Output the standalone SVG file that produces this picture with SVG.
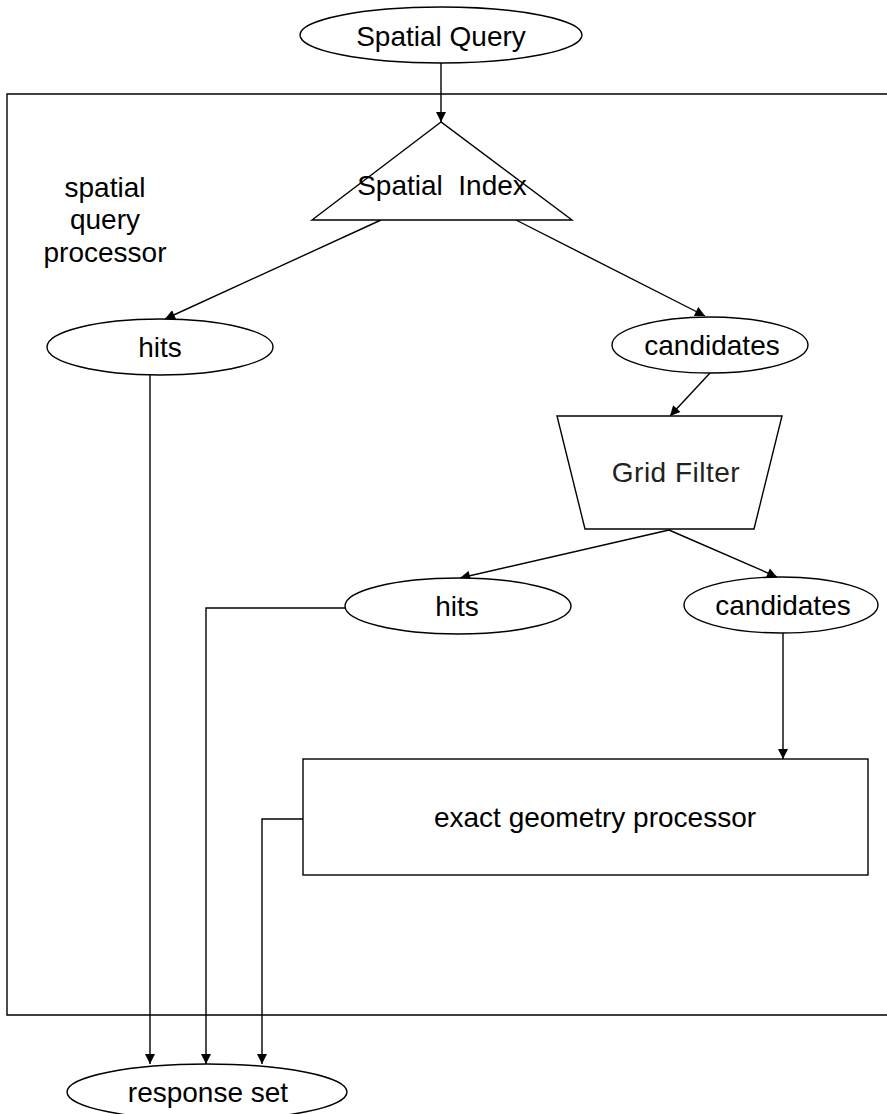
<svg xmlns="http://www.w3.org/2000/svg" width="887" height="1114" viewBox="0 0 887 1114">
<defs>
<marker id="ah" viewBox="0 0 10 10" refX="10" refY="5" markerWidth="11" markerHeight="10" markerUnits="userSpaceOnUse" orient="auto">
<path d="M0,0 L10,5 L0,10 Z" fill="#000"/>
</marker>
<style>
.s{fill:#fff;stroke:#000;stroke-width:1.4}
.c{fill:none;stroke:#000;stroke-width:1.4}
.a{marker-end:url(#ah)}
.t{font-family:"Liberation Sans",Arial,sans-serif;font-size:28px;fill:#000;text-anchor:middle}
.g{font-family:"Liberation Sans",Arial,sans-serif;font-size:28px;fill:#222;text-anchor:middle;letter-spacing:0.5px}
</style>
</defs>
<rect width="887" height="1114" fill="#fff"/>
<g id="frame">
<path class="c" d="M887,94 H7 V1015 H887"/>
<text class="t" x="105" y="197">spatial</text>
<text class="t" x="105" y="229">query</text>
<text class="t" x="105" y="262">processor</text>
</g>
<g id="connectors">
<path class="c a" d="M441,63 V122"/>
<path class="c a" d="M381,220 L165,319"/>
<path class="c a" d="M516,220 L705,316"/>
<path class="c a" d="M710,373 L670,416"/>
<path class="c a" d="M669,530 L460,578"/>
<path class="c a" d="M669,530 L777,577"/>
<path class="c a" d="M783,633 V759"/>
<path class="c a" d="M150,375 V1064"/>
<path class="c a" d="M345,608 H206 V1064"/>
<path class="c a" d="M303,819 H262 V1064"/>
</g>
<g id="spatial-query">
<ellipse class="s" cx="441" cy="35" rx="141" ry="28"/>
<text class="t" x="441" y="46">Spatial Query</text>
</g>
<g id="spatial-index">
<path class="s" d="M441,122 L312,220 L572,220 Z"/>
<text class="t" x="442" y="195" xml:space="preserve">Spatial  Index</text>
</g>
<g id="hits1">
<ellipse class="s" cx="160" cy="347" rx="113" ry="28"/>
<text class="t" x="160" y="357">hits</text>
</g>
<g id="candidates1">
<ellipse class="s" cx="710" cy="345" rx="98" ry="28"/>
<text class="t" x="712" y="355">candidates</text>
</g>
<g id="grid-filter">
<path class="s" d="M557,416 L782,416 L754,529 L585,529 Z"/>
<text class="g" x="676" y="482">Grid Filter</text>
</g>
<g id="hits2">
<ellipse class="s" cx="458" cy="606" rx="113" ry="28"/>
<text class="t" x="457" y="616">hits</text>
</g>
<g id="candidates2">
<ellipse class="s" cx="781" cy="605" rx="97" ry="28"/>
<text class="t" x="783" y="615">candidates</text>
</g>
<g id="exact-geometry">
<rect class="s" x="303" y="759" width="565" height="116"/>
<text class="t" x="595" y="827">exact geometry processor</text>
</g>
<g id="response-set">
<ellipse class="s" cx="207" cy="1092" rx="140" ry="28"/>
<text class="t" x="208" y="1102">response set</text>
</g>
</svg>
